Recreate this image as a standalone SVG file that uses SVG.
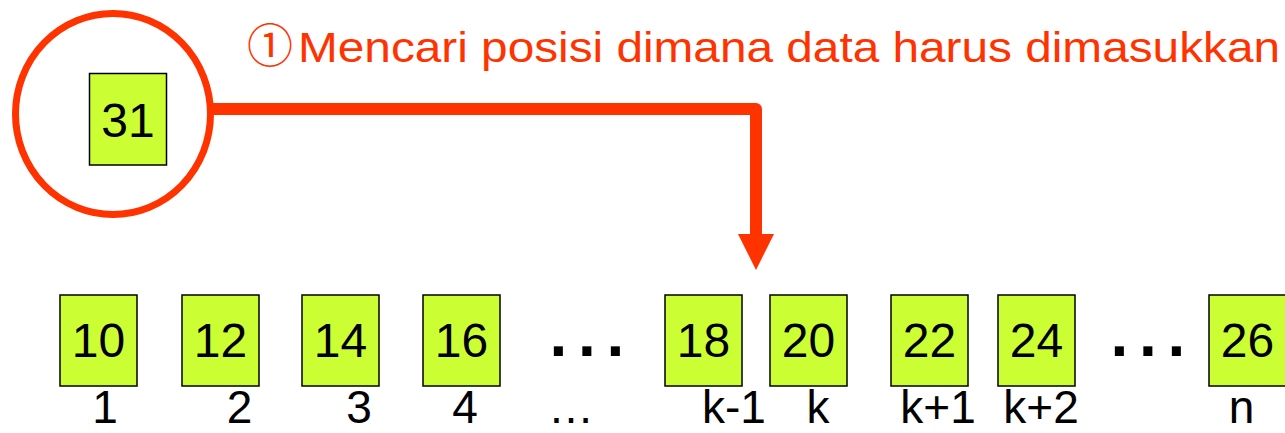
<svg xmlns="http://www.w3.org/2000/svg" width="1285" height="433" viewBox="0 0 1285 433">
  <style>
    .box rect { fill: #CCFF33; stroke: #000; stroke-width: 1.5; }
    .num { font-family: "Liberation Sans", Arial, sans-serif; font-size: 48px; fill: #000; text-anchor: middle; }
    .lbl { font-family: "Liberation Sans", Arial, sans-serif; font-size: 46px; fill: #000; text-anchor: middle; }
    .dots { font-family: "Liberation Sans", Arial, sans-serif; font-size: 64px; font-weight: bold; fill: #000; letter-spacing: 10.7px; }
    .red { fill: #FF3300; }
    .conn { fill: none; stroke: #FF3300; stroke-width: 12; stroke-linejoin: round; }
  </style>
  <defs>
    <marker id="arrow" markerUnits="userSpaceOnUse" markerWidth="36" markerHeight="36" viewBox="0 0 36 36" refX="2" refY="18" orient="auto">
      <path d="M0,0 L36,18 L0,36 Z" fill="#FF3300"/>
    </marker>
  </defs>

  <g id="title">
    <text x="247" y="62" font-family="'Noto Sans CJK JP', sans-serif" font-size="46" class="red">①</text>
    <text x="298" y="62" font-family="'Liberation Sans', Arial, sans-serif" font-size="43" class="red" textLength="982" lengthAdjust="spacingAndGlyphs">Mencari posisi dimana data harus dimasukkan</text>
  </g>

  <g id="focus">
    <ellipse cx="113" cy="114" rx="97.5" ry="100.5" fill="none" stroke="#FF3300" stroke-width="7"/>
    <g class="box" id="node-31">
      <rect x="89.5" y="73.5" width="77" height="91.5"/>
      <text class="num" x="128" y="137">31</text>
    </g>
  </g>

  <g id="connectors">
    <path class="conn" d="M213,109 H756 V236" marker-end="url(#arrow)"/>
  </g>

  <g id="array">
    <g class="box" id="node-10"><rect x="60" y="295" width="77" height="91"/><text class="num" x="98.5" y="357">10</text></g>
    <g class="box" id="node-12"><rect x="182" y="295" width="77" height="91"/><text class="num" x="220.5" y="357">12</text></g>
    <g class="box" id="node-14"><rect x="302" y="295" width="77" height="91"/><text class="num" x="340.5" y="357">14</text></g>
    <g class="box" id="node-16"><rect x="423" y="295" width="77" height="91"/><text class="num" x="461.5" y="357">16</text></g>
    <g class="box" id="node-18"><rect x="665" y="295" width="77" height="91"/><text class="num" x="703.5" y="357">18</text></g>
    <g class="box" id="node-20"><rect x="770" y="295" width="77" height="91"/><text class="num" x="808.5" y="357">20</text></g>
    <g class="box" id="node-22"><rect x="891" y="295" width="77" height="91"/><text class="num" x="929.5" y="357">22</text></g>
    <g class="box" id="node-24"><rect x="998" y="295" width="77" height="91"/><text class="num" x="1036.5" y="357">24</text></g>
    <g class="box" id="node-26"><rect x="1209" y="295" width="77" height="91"/><text class="num" x="1247.5" y="357">26</text></g>
  </g>

  <g id="ellipses">
    <text class="dots" x="549.5" y="356">...</text>
    <text class="dots" x="1110.5" y="356">...</text>
  </g>

  <g id="indices">
    <text class="lbl" x="105" y="423">1</text>
    <text class="lbl" x="239.5" y="423">2</text>
    <text class="lbl" x="359" y="423">3</text>
    <text class="lbl" x="465" y="423">4</text>
    <text class="lbl" x="571" y="423">…</text>
    <text class="lbl" x="734" y="423">k-1</text>
    <text class="lbl" x="818" y="423">k</text>
    <text class="lbl" x="938" y="423">k+1</text>
    <text class="lbl" x="1041" y="423">k+2</text>
    <text class="lbl" x="1241.5" y="423">n</text>
  </g>
</svg>
